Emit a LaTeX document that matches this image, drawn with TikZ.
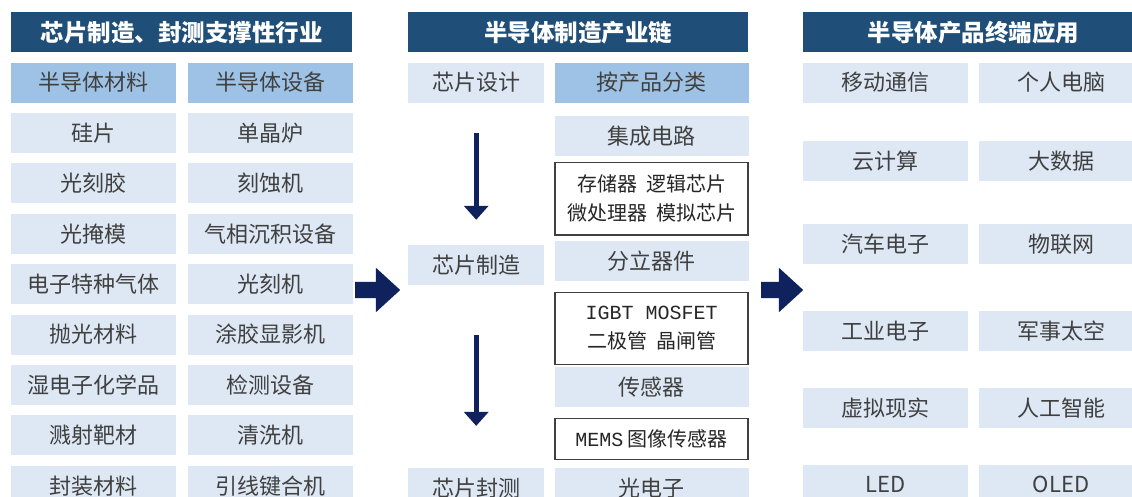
\documentclass[tikz,border=0pt]{standalone}
\usepackage{fontspec}
\setmainfont{Noto Sans CJK SC}
\setmonofont{Liberation Mono}
\usetikzlibrary{positioning,arrows.meta,shapes.arrows}
\definecolor{headblue}{RGB}{31,78,121}
\definecolor{cellblue}{RGB}{221,232,244}
\definecolor{midblue}{RGB}{157,194,229}
\definecolor{arrownavy}{RGB}{15,34,94}
\definecolor{textgray}{RGB}{64,64,64}

\begin{document}
\begin{tikzpicture}[
        x=1pt, y=-1pt,
        % Kutu stilleri
        header/.style={rectangle, fill=headblue, text=white, font=\fontsize{23.5pt}{27pt}\selectfont\bfseries, minimum height=40pt, inner sep=0pt, anchor=north west},
        cell/.style={rectangle, fill=cellblue, text=textgray, font=\fontsize{22pt}{26pt}\selectfont, minimum width=165pt, minimum height=40pt, inner sep=0pt},
        subhead/.style={cell, fill=midblue},
        listbox/.style={rectangle, draw=textgray, line width=1.3pt, fill=white, text=black!85, font=\fontsize{20pt}{29pt}\selectfont, align=center, minimum width=193pt, inner sep=0pt},
        % Ok stilleri
        downarrow/.style={draw=arrownavy, line width=5pt, -{Triangle[length=14pt,width=24pt]}},
        bigarrow/.style={single arrow, fill=arrownavy, anchor=tail, inner xsep=0pt, inner ysep=8pt, minimum width=0pt, single arrow head extend=14pt, single arrow tip angle=85}
    ]
        \clip (0,0) rectangle (1132,497);

        % Sol sütun: destek sektörleri
        \node (lhead) [header, minimum width=341pt] at (11,12) {芯片制造、封测支撑性行业};
        \node (lmat) [subhead, below right=10pt and 0pt of lhead.south west] {半导体材料};
        \node (lequ) [subhead, right=11pt of lmat] {半导体设备};
        \node (l1) [cell, below=10pt of lmat] {硅片};
        \node (l2) [cell, below=10pt of l1] {光刻胶};
        \node (l3) [cell, below=10pt of l2] {光掩模};
        \node (l4) [cell, below=10pt of l3] {电子特种气体};
        \node (l5) [cell, below=10pt of l4] {抛光材料};
        \node (l6) [cell, below=10pt of l5] {湿电子化学品};
        \node (l7) [cell, below=10pt of l6] {溅射靶材};
        \node (l8) [cell, below=10pt of l7] {封装材料};
        \node (e1) [cell, right=11pt of l1] {单晶炉};
        \node (e2) [cell, right=11pt of l2] {刻蚀机};
        \node (e3) [cell, right=11pt of l3] {气相沉积设备};
        \node (e4) [cell, right=11pt of l4] {光刻机};
        \node (e5) [cell, right=11pt of l5] {涂胶显影机};
        \node (e6) [cell, right=11pt of l6] {检测设备};
        \node (e7) [cell, right=11pt of l7] {清洗机};
        \node (e8) [cell, right=11pt of l8] {引线键合机};

        % Orta sütun: üretim zinciri
        \node (mhead) [header, minimum width=340pt] at (408,12) {半导体制造产业链};
        \node (design) [cell, minimum width=136pt, below right=10pt and 0pt of mhead.south west] {芯片设计};
        \node (classify) [subhead, minimum width=194pt, right=10pt of design] {按产品分类};
        \node (ic) [cell, minimum width=194pt, below=13pt of classify] {集成电路};
        \node (icbox) [listbox, minimum height=72pt, below=6pt of ic] {存储器\ \ 逻辑芯片\\微处理器\ \ 模拟芯片};
        \node (discrete) [cell, minimum width=194pt, below=5pt of icbox] {分立器件};
        \node (discbox) [listbox, minimum height=72pt, below=11pt of discrete] {\texttt{IGBT MOSFET}\\二极管\ \ 晶闸管};
        \node (sensor) [cell, minimum width=194pt, below=2pt of discbox] {传感器};
        \node (sensbox) [listbox, minimum height=41pt, below=10pt of sensor] {\texttt{MEMS}\ 图像传感器};
        \node (opto) [cell, minimum width=194pt, below=8pt of sensbox] {光电子};
        \node (fab) [cell, minimum width=136pt, below=142pt of design] {芯片制造};
        \node (pack) [cell, minimum width=136pt, left=10pt of opto] {芯片封测};

        % Sağ sütun: uygulamalar
        \node (rhead) [header, minimum width=341pt] at (803,12) {半导体产品终端应用};
        \node (r1) [cell, below right=10pt and 0pt of rhead.south west] {移动通信};
        \node (r2) [cell, below=38pt of r1] {云计算};
        \node (r3) [cell, below=43pt of r2] {汽车电子};
        \node (r4) [cell, below=46pt of r3] {工业电子};
        \node (r5) [cell, below=37pt of r4] {虚拟现实};
        \node (r6) [cell, below=36pt of r5] {LED};
        \node (s1) [cell, right=10pt of r1] {个人电脑};
        \node (s2) [cell, right=10pt of r2] {大数据};
        \node (s3) [cell, right=10pt of r3] {物联网};
        \node (s4) [cell, right=10pt of r4] {军事太空};
        \node (s5) [cell, right=10pt of r5] {人工智能};
        \node (s6) [cell, right=10pt of r6] {OLED};

        % Oklar
        \draw[downarrow, shorten <=30pt, shorten >=25pt] (design) -- (fab);
        \draw[downarrow, shorten <=50pt, shorten >=42pt] (fab) -- (pack);
        \node (arrowA) [bigarrow, minimum height=45pt] at (355,290) {};
        \node (arrowB) [bigarrow, minimum height=42pt] at (761,290) {};

    \end{tikzpicture}
\end{document}
